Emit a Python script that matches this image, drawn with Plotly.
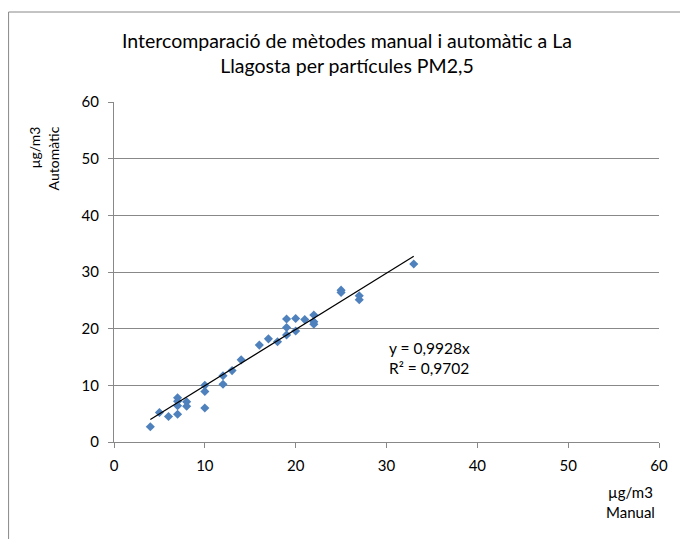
import plotly.graph_objects as go

manual = [4, 5, 6, 7, 7, 7, 7, 8, 8, 10, 10, 10, 12, 12, 13, 14, 16, 17, 18,
          19, 19, 19, 20, 20, 21, 22, 22, 22, 25, 25, 27, 27, 33]
automatic = [2.7, 5.2, 4.5, 7.8, 7.2, 6.4, 4.9, 7.1, 6.3, 10.0, 8.9, 6.0, 11.7, 10.2,
             12.6, 14.5, 17.1, 18.2, 17.7, 21.7, 20.2, 18.9, 21.8, 19.6, 21.6, 22.4,
             21.2, 20.8, 26.8, 26.4, 25.8, 25.1, 31.4]
slope = 0.9928
r2 = 0.9702
x_ticks = [0, 10, 20, 30, 40, 50, 60]
y_ticks = [0, 10, 20, 30, 40, 50, 60]

FONT = "Lato"
W, H = 680, 539
L, R, T, B = 114, 18, 102, 97
pw, ph = W - L - R, H - T - B

def px(xp):
    return (xp - L) / pw

def py(yp):
    return (H - B - yp) / ph

xmin, xmax = min(manual), max(manual)

fig = go.Figure()
fig.add_trace(go.Scatter(
    x=manual, y=automatic, mode="markers",
    marker=dict(symbol="diamond", size=7, color="#4F81BD"),
    showlegend=False, hoverinfo="x+y"))
fig.add_trace(go.Scatter(
    x=[xmin, xmax], y=[slope * xmin, slope * xmax], mode="lines",
    line=dict(color="black", width=1.2), showlegend=False))

fig.update_layout(
    width=W, height=H,
    margin=dict(l=L, r=R, t=T, b=B),
    paper_bgcolor="white", plot_bgcolor="white",
    font=dict(family=FONT, size=15, color="black"),
    xaxis=dict(range=[0, 60], tickvals=x_ticks, showgrid=False, zeroline=False,
               showline=True, linecolor="#888888", linewidth=1,
               ticks="outside", ticklen=5, tickcolor="#888888",
               ticklabelstandoff=5,
               tickfont=dict(family=FONT, size=15), fixedrange=True),
    yaxis=dict(range=[0, 60], tickvals=y_ticks, showgrid=True, gridcolor="#888888",
               gridwidth=1, zeroline=False,
               showline=True, linecolor="#888888", linewidth=1,
               ticks="outside", ticklen=5, tickcolor="#888888",
               ticklabelstandoff=6,
               tickfont=dict(family=FONT, size=15), fixedrange=True),
    shapes=[dict(type="rect", xref="paper", yref="paper",
                 x0=px(8), x1=px(690), y0=py(560), y1=py(12),
                 line=dict(color="#888888", width=1), fillcolor="rgba(0,0,0,0)",
                 layer="below")],
    annotations=[
        dict(text="Intercomparació de mètodes manual i automàtic a La<br>Llagosta per partícules PM2,5",
             xref="paper", yref="paper", x=px(348), y=py(53), xanchor="center", yanchor="middle",
             showarrow=False, font=dict(family=FONT, size=19.5), align="center"),
        dict(text="µg/m3<br>Automàtic", xref="paper", yref="paper",
             x=px(43), y=py(124), xanchor="center", yanchor="top", textangle=-90,
             showarrow=False, font=dict(family=FONT, size=14), align="right"),
        dict(text="µg/m3<br>Manual", xref="paper", yref="paper",
             x=px(633), y=py(502), xanchor="center", yanchor="middle",
             showarrow=False, font=dict(family=FONT, size=15), align="center"),
        dict(text=f"y = {str(slope).replace('.', ',')}x<br>R² = {str(r2).replace('.', ',')}",
             xref="paper", yref="paper", x=px(389), y=py(358), xanchor="left", yanchor="middle",
             showarrow=False, font=dict(family=FONT, size=15.5), align="left"),
    ],
)

fig.write_html("out.html")
